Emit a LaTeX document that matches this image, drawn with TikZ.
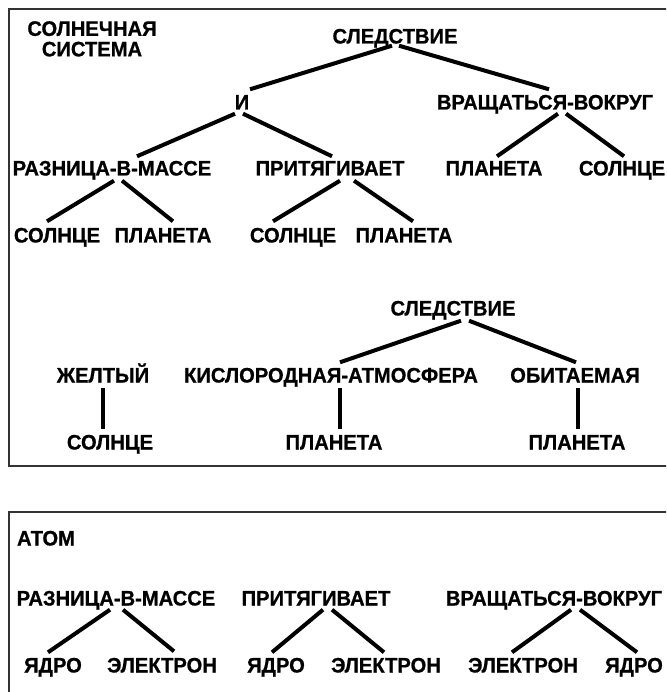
\documentclass[tikz,border=0pt]{standalone}
\usepackage{fontspec}
\setmainfont{Liberation Sans}
\newfontfamily\lbfont[FakeStretch=0.96,FakeBold=0.8]{Liberation Sans Bold}
\begin{document}
\begin{tikzpicture}[x=1pt,y=-1pt,
  lbl/.style={font=\lbfont\fontsize{21}{20.5}\selectfont, inner sep=0pt, text height=15pt, text depth=0pt},
  edge/.style={line width=4pt},
  frame/.style={line width=1.6pt, draw=black!80}]
\fill[white] (0,0) rectangle (666,692);
\useasboundingbox (0,0) rectangle (666,692);
\begin{scope}
\clip (0,0) rectangle (666,692);
\draw[frame] (9,9) rectangle (700,466);
\draw[frame] (9,512) rectangle (700,720);
\end{scope}

% ---------- tree 1 ----------
\node[lbl, align=center, anchor=north, text height=] (title) at (92,21) {СОЛНЕЧНАЯ\\СИСТЕМА};
\node[lbl] (s1) at (395,36) {СЛЕДСТВИЕ};
\node[lbl] (i) at (242,102) {И};
\node[lbl] (vr) at (545,102) {ВРАЩАТЬСЯ-ВОКРУГ};
\node[lbl] (raz) at (112,168) {РАЗНИЦА-В-МАССЕ};
\node[lbl] (pr) at (330,168) {ПРИТЯГИВАЕТ};
\node[lbl] (pl1) at (494,168) {ПЛАНЕТА};
\node[lbl] (so1) at (622,168) {СОЛНЦЕ};
\node[lbl] (so2) at (57,235) {СОЛНЦЕ};
\node[lbl] (pl2) at (163,235) {ПЛАНЕТА};
\node[lbl] (so3) at (293,235) {СОЛНЦЕ};
\node[lbl] (pl3) at (404,235) {ПЛАНЕТА};

\draw[edge] ([shift={(-3,2)}]s1.south) -- ([shift={(8,-5)}]i.north);
\draw[edge] ([shift={(4,2)}]s1.south) -- ([shift={(4,-5)}]vr.north);
\draw[edge] ([shift={(-7,4)}]i.south) -- ([shift={(25,-4)}]raz.north);
\draw[edge] ([shift={(1,4)}]i.south) -- ([shift={(2,-4)}]pr.north);
\draw[edge] ([shift={(13,4)}]vr.south) -- ([shift={(3,-4)}]pl1.north);
\draw[edge] ([shift={(21,4)}]vr.south) -- ([shift={(2,-4)}]so1.north);
\draw[edge] ([shift={(2,5)}]raz.south) -- ([shift={(-10,-6)}]so2.north);
\draw[edge] ([shift={(10,5)}]raz.south) -- ([shift={(10,-6)}]pl2.north);
\draw[edge] ([shift={(10,5)}]pr.south) -- ([shift={(-20,-6)}]so3.north);
\draw[edge] ([shift={(24,5)}]pr.south) -- ([shift={(9,-6)}]pl3.north);

% ---------- tree 2 ----------
\node[lbl] (s2) at (453,308) {СЛЕДСТВИЕ};
\node[lbl] (zh) at (103,375) {ЖЕЛТЫЙ};
\node[lbl] (ki) at (331,375) {КИСЛОРОДНАЯ-АТМОСФЕРА};
\node[lbl] (ob) at (575,375) {ОБИТАЕМАЯ};
\node[lbl] (so4) at (110,442) {СОЛНЦЕ};
\node[lbl] (pl4) at (334,442) {ПЛАНЕТА};
\node[lbl] (pl5) at (577,442) {ПЛАНЕТА};

\draw[edge] ([shift={(8,5)}]s2.south) -- ([shift={(9,-5)}]ki.north);
\draw[edge] ([shift={(16,5)}]s2.south) -- ([shift={(1,-5)}]ob.north);
\draw[edge] ([shift={(0,5)}]zh.south) -- ([shift={(-7,-5)}]so4.north);
\draw[edge] ([shift={(9,5)}]ki.south) -- ([shift={(6,-5)}]pl4.north);
\draw[edge] ([shift={(3,5)}]ob.south) -- ([shift={(1,-5)}]pl5.north);

% ---------- tree 3 ----------
\node[lbl] (at) at (46,538) {АТОМ};
\node[lbl] (r3) at (116,598) {РАЗНИЦА-В-МАССЕ};
\node[lbl] (p3) at (316,598) {ПРИТЯГИВАЕТ};
\node[lbl] (v3) at (554,598) {ВРАЩАТЬСЯ-ВОКРУГ};
\node[lbl] (ya1) at (53,665) {ЯДРО};
\node[lbl] (el1) at (162,665) {ЭЛЕКТРОН};
\node[lbl] (ya2) at (276,665) {ЯДРО};
\node[lbl] (el2) at (386,665) {ЭЛЕКТРОН};
\node[lbl] (el3) at (523,665) {ЭЛЕКТРОН};
\node[lbl] (ya3) at (634,665) {ЯДРО};

\draw[edge] ([shift={(-6,4)}]r3.south) -- ([shift={(-5,-5)}]ya1.north);
\draw[edge] ([shift={(7,4)}]r3.south) -- ([shift={(12,-6)}]el1.north);
\draw[edge] ([shift={(7,4)}]p3.south) -- ([shift={(-4,-5)}]ya2.north);
\draw[edge] ([shift={(16,4)}]p3.south) -- ([shift={(-2,-5)}]el2.north);
\draw[edge] ([shift={(17,4)}]v3.south) -- ([shift={(-11,-5)}]el3.north);
\draw[edge] ([shift={(26,4)}]v3.south) -- ([shift={(3,-5)}]ya3.north);
\end{tikzpicture}
\end{document}
